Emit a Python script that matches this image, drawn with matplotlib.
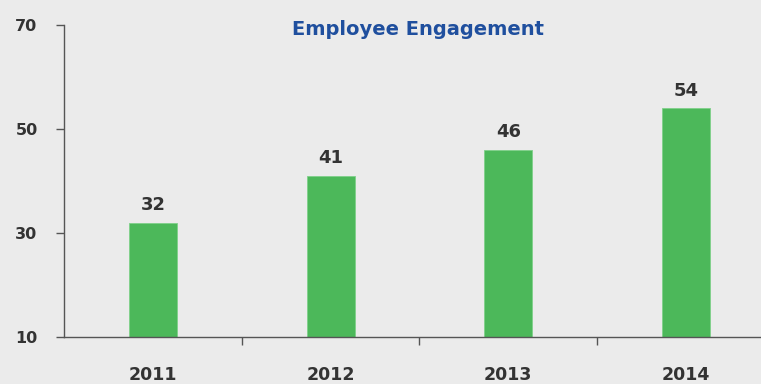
import numpy as np
import matplotlib as mpl
mpl.use('Agg')
import matplotlib.pyplot as plt

years = ['2011', '2012', '2013', '2014']
engagement = [32, 41, 46, 54]
yticks = [10, 30, 50, 70]
title = 'Employee Engagement'

bg = '#ebebeb'
bar_color = '#4cb85a'
axis_color = '#555555'
text_color = '#333333'

fig = plt.figure(figsize=(7.61, 3.84), dpi=100)
fig.patch.set_facecolor(bg)
ax = fig.add_axes([0.0841, 0.1224, 0.934, 0.8125])
ax.set_facecolor(bg)

x = np.arange(len(years))
ax.bar(x, [v - 10 for v in engagement], bottom=10, width=0.27,
       color=bar_color, edgecolor='#7fd08a', linewidth=0.6, zorder=2)

for xi, v in zip(x, engagement):
    ax.annotate(str(v), (xi, v), xytext=(0, 6), textcoords='offset points',
                ha='center', va='bottom', fontsize=13, fontweight='bold',
                color=text_color)

ax.set_xlim(-0.5, len(years) - 0.5)
ax.set_ylim(10, 70)

for s in ['top', 'right']:
    ax.spines[s].set_visible(False)
for s in ['left', 'bottom']:
    ax.spines[s].set_color(axis_color)
    ax.spines[s].set_linewidth(1.0)

ax.set_yticks(yticks)
ax.set_yticklabels([str(t) for t in yticks], fontsize=11.5, fontweight='bold',
                   color=text_color)
ax.tick_params(axis='y', length=6, width=1, color=axis_color, pad=13)

# category dividers on the x axis, labels sit well below the line
ax.set_xticks(x[:-1] + 0.5)
ax.set_xticklabels([])
ax.tick_params(axis='x', length=6, width=1, color=axis_color)
for xi, lab in zip(x, years):
    ax.annotate(lab, (xi, 10), xytext=(0, -27.5), textcoords='offset points',
                ha='center', va='center', fontsize=12.5, fontweight='bold',
                color=text_color, annotation_clip=False)

fig.text(0.549, 0.922, title, ha='center', va='center', fontsize=14,
         fontweight='heavy', color='#1f4f9e')

plt.savefig('out.png', dpi=100, facecolor=bg)
